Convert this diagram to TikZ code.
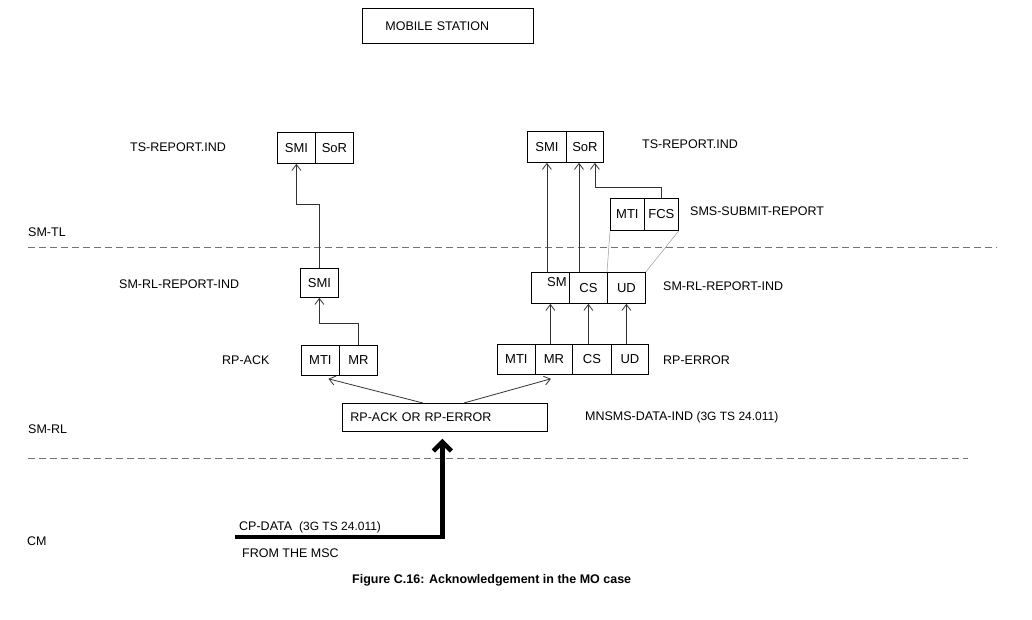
\documentclass[tikz,border=0pt]{standalone}
\usepackage{fontspec}
\setmainfont{Liberation Sans}
\usetikzlibrary{arrows.meta,calc}
\begin{document}
\begin{tikzpicture}[x=1pt,y=-1pt,
  cell/.style={draw=black, line width=0.8pt, anchor=north west, inner sep=0pt, font=\fontsize{13}{15}\selectfont},
  lbl/.style={anchor=west, inner sep=0pt, font=\fontsize{12.5}{15}\selectfont},
  arr/.style={draw=black!80, line width=0.8pt, -{Straight Barb[length=6pt,width=9pt]}},
  thinlink/.style={draw=black!40, line width=0.5pt},
  layer/.style={draw=black!55, line width=0.8pt, dash pattern=on 7pt off 4pt},
  big/.style={draw=black, line width=4.5pt, -{Straight Barb[length=9pt,width=18pt]}}
]
\useasboundingbox (0,0) rectangle (1032,620);

% top box
\node[cell, font=\fontsize{12.5}{15}\selectfont, minimum height=35, text width=125, inner xsep=23, align=left] (ms) at (362,8) {MOBILE STATION};

% left column
\node[cell, minimum width=38, minimum height=31] (lsmi) at (277,132) {SMI};
\node[cell, minimum width=38, minimum height=31] (lsor) at (315,132) {SoR};
\node[cell, minimum width=38, minimum height=29] (lsmi2) at (300,268) {SMI};
\node[cell, minimum width=38, minimum height=30] (lmti) at (301,345) {MTI};
\node[cell, minimum width=38, minimum height=30] (lmr) at (339,345) {MR};

% right column
\node[cell, minimum width=39, minimum height=31] (rsmi) at (527,131) {SMI};
\node[cell, minimum width=37, minimum height=31] (rsor) at (566,131) {SoR};
\node[cell, minimum width=34, minimum height=32] (smti) at (610,198) {MTI};
\node[cell, minimum width=34, minimum height=32] (sfcs) at (644,198) {FCS};
\node[cell, minimum width=38, minimum height=31,
  label={[anchor=north east, inner sep=0pt, xshift=-3pt, yshift=-5pt, font=\fontsize{13}{15}\selectfont]north east:SM}] (rsm) at (531,272) {};
\node[cell, minimum width=38, minimum height=31] (rcs) at (569,272) {CS};
\node[cell, minimum width=38, minimum height=31] (rud) at (607,272) {UD};
\node[cell, minimum width=38, minimum height=30] (emti) at (497,344) {MTI};
\node[cell, minimum width=37, minimum height=30] (emr) at (535,344) {MR};
\node[cell, minimum width=39, minimum height=30] (ecs) at (572,344) {CS};
\node[cell, minimum width=37, minimum height=30] (eud) at (611,344) {UD};

% RP-ACK OR RP-ERROR
\node[cell, font=\fontsize{12.5}{15}\selectfont, minimum height=28, text width=189, inner xsep=8, align=left] (rpbox) at (342,403) {RP-ACK OR RP-ERROR};

% labels
\node[lbl] (l1) at (130,147) {TS-REPORT.IND};
\node[lbl] (l2) at (642,144) {TS-REPORT.IND};
\node[lbl] (l3) at (690,211) {SMS-SUBMIT-REPORT};
\node[lbl] (l4) at (28,232) {SM-TL};
\node[lbl] (l5) at (119,284) {SM-RL-REPORT-IND};
\node[lbl] (l6) at (663,286) {SM-RL-REPORT-IND};
\node[lbl] (l7) at (222,360) {RP-ACK};
\node[lbl] (l8) at (663,360) {RP-ERROR};
\node[lbl] (l9) at (28,429) {SM-RL};
\node[lbl] (l10) at (585,417) {MNSMS-DATA-IND {\fontsize{12}{14}\selectfont(3G TS 24.011)}};
\node[lbl] (l11) at (239,527) {CP-DATA\ \ {\fontsize{12}{14}\selectfont(3G TS 24.011)}};
\node[lbl] (l12) at (27,541) {CM};
\node[lbl] (l13) at (242,553) {FROM THE MSC};
\node[lbl, font=\bfseries\fontsize{12.5}{15}\selectfont] (cap) at (352,580) {Figure C.16: Acknowledgement in the MO case};

% layer lines
\coordinate (tlL) at (28,247);
\coordinate (tlR) at (997,247);
\coordinate (rlL) at (28,458);
\coordinate (rlR) at (968,458);
\draw[layer] (tlL) -- (tlR);
\draw[layer] (rlL) -- (rlR);

% left connectors
\draw[arr] (lsmi2.north) -- ++(0,-64) -| (lsmi.south);
\draw[arr] (lmr.north) -- ++(0,-22) -| (lsmi2.south);
\draw[arr] ($(rpbox.north)+(-22,0)$) -- ($(lmti.south)+(8,3)$);
\draw[arr] ($(rpbox.north)+(19,0)$) -- ($(emr.south)+(-3,4)$);

% right connectors
\draw[arr] (rsm.south |- emr.north) -- (rsm.south);
\draw[arr] (rcs.south |- ecs.north) -- (rcs.south);
\draw[arr] (rud.south |- eud.north) -- (rud.south);
\draw[arr] (rsmi.south |- rsm.north) -- (rsmi.south);
\coordinate (cstap) at ($(rcs.north west)+(10,0)$);
\draw[arr] (cstap) -- (cstap |- rsor.south);
\coordinate (sorin) at ($(rsor.south)+(10,0)$);
\draw[arr] (sfcs.north) -- ++(0,-11) -| (sorin);
\draw[thinlink] (smti.south west) -- (rud.north west);
\draw[thinlink] (sfcs.south east) -- (rud.north east);

% thick arrow from the MSC
\coordinate (msc) at (235,537);
\coordinate (rpin) at ($(rpbox.south)+(-2.5,7)$);
\draw[big] (msc) -| (rpin);
\end{tikzpicture}
\end{document}
